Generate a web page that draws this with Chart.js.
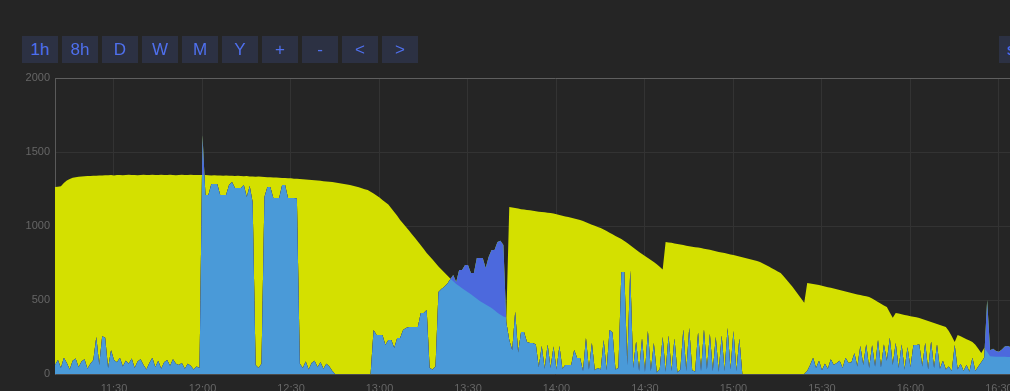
<!DOCTYPE html>
<html>
<head>
<meta charset="utf-8">
<script src="https://cdn.jsdelivr.net/npm/chart.js@4.4.1/dist/chart.umd.min.js"></script>
<style>
  html, body { margin:0; padding:0; background:#252525; width:1010px; height:391px; overflow:hidden; }
  .btn { position:absolute; top:36px; height:27px; width:36px; line-height:27px; text-align:center;
         background:#2c3143; color:#4f70ee; font-family:"Liberation Sans", Arial, sans-serif; font-size:17px; z-index:2; }
  #wrap { position:absolute; left:0; top:60px; width:1055px; height:340px; }
  #c { width:1055px; height:340px; display:block; }
</style>
</head>
<body>
<div class="btn" style="left:22px">1h</div>
<div class="btn" style="left:62px">8h</div>
<div class="btn" style="left:102px">D</div>
<div class="btn" style="left:142px">W</div>
<div class="btn" style="left:182px">M</div>
<div class="btn" style="left:222px">Y</div>
<div class="btn" style="left:262px">+</div>
<div class="btn" style="left:302px">-</div>
<div class="btn" style="left:342px">&lt;</div>
<div class="btn" style="left:382px">&gt;</div>
<div class="btn" style="left:999px;width:60px;text-align:left;padding-left:8px;">sum</div>
<div id="wrap"><canvas id="c" width="1055" height="340"></canvas></div>
<script>
// first sample at 11:10 (minutes after midnight), one sample per minute
const startMinute = 670;

// consumption (W), one value per minute from 11:10
const consumption = [
  60,95,40,110,75,30,90,105,45,85,100,35,70,95,
  250,60,255,245,40,160,
  95,80,110,50,90,70,105,40,85,100,60,30,75,110,45,90,35,80,95,55,100,70,
  60,75,35,70,55,30,50,40,
  1615,1209,1209,1284,1284,1284,1209,1209,1209,1277,1297,1257,1257,1257,1277,1196,1270,1160,
  60,40,70,
  1196,1264,1264,1189,1189,1189,1277,1277,1189,1189,1189,1185,
  70,40,85,30,75,90,45,80,35,70,50,20,
  0,0,0,0,0,0,0,0,0,0,0,0,0,
  297,264,264,264,196,230,230,176,243,243,297,310,318,318,318,318,412,412,432,40,30,50,
  554,575,590,610,640,669,621,703,703,736,736,682,682,784,784,784,716,791,838,838,892,900,872,
  350,230,160,420,145,284,284,216,209,209,200,
  45,190,35,200,40,185,30,190,35,61,61,61,162,108,108,
  20,243,30,210,25,40,30,230,25,297,280,30,40,690,690,60,700,40,
  220,20,240,15,290,20,210,10,30,250,15,260,20,240,10,30,300,20,310,25,15,280,20,300,30,270,20,250,15,260,20,310,30,290,20,240,0,
  0,0,0,0,0,0,0,0,0,0,0,0,0,0,0,0,0,0,0,0,0,
  20,60,110,40,90,25,70,35,100,60,75,90,40,110,75,80,140,50,190,60,200,40,195,50,230,45,200,90,245,60,210,40,200,30,180,45,196,196,200,50,210,30,220,40,200,35,90,30,50,20,196,30,70,20,60,15,110,20,50,80,110,500,160,
  170,155,150,165,185,190,180,170,175,185,190,180,175,170,180,185,175,170,165,175,180,170
];

// production (W), one value per minute from 11:10
const production = [
  1264,1266,1268,1290,1308,1318,1326,1330,1332,1334,1336,1337,1338,1339,1340,1341,
  1342,1343,1343,1344,1342,1345,1344,1343,1345,1346,1344,1345,1343,1345,1346,1345,1344,
  1346,1344,1345,1347,1345,1344,1346,1345,1343,1345,1346,1344,1345,1346,1344,1345,1345,
  1344,1345,1343,1342,1343,1341,1342,1340,1341,1339,1340,1338,1339,1337,1336,1337,1335,
  1334,1333,1334,1332,1331,1330,1329,1328,1327,1326,1325,1324,1323,1322,1320,1319,1318,
  1316,1314,1313,1311,1309,1307,1305,1303,1301,1299,1297,
  1294,1291,1288,1284,1281,1277,
  1272,1267,1261,1255,1249,1243,
  1232,1220,1206,1192,
  1175,1160,1145,1120,
  1095,1070,1041,
  1017,993,969,945,921,
  895,870,845,818,
  795,773,750,727,
  706,686,666,646,626,
  608,594,580,566,553,539,
  523,508,493,
  482,470,458,446,
  430,414,400,388,382,
  1128,1125,1122,1118,1114,
  1111,1108,1106,1103,1100,1097,1095,1093,1090,1088,
  1084,1080,1075,1070,1065,1060,1055,1050,1045,1040,
  1033,1025,1017,1009,1001,994,986,
  976,966,955,944,933,922,912,
  899,885,870,855,840,824,
  811,798,784,770,757,
  742,725,706,
  892,889,886,882,879,875,871,867,864,860,857,854,851,
  847,843,839,834,830,825,821,817,813,808,804,
  799,794,789,784,779,773,768,763,757,
  747,737,726,715,704,693,682,
  660,637,613,590,
  562,535,508,482,
  615,611,608,605,601,
  596,591,586,582,577,573,568,
  563,558,553,548,543,538,534,529,525,520,
  510,498,486,474,462,453,
  415,380,412,
  408,404,399,395,391,387,383,378,
  371,365,358,351,345,338,331,325,318,
  290,255,216,264,
  255,245,235,226,216,
  197,170,142,176,
  150,120,
  118,117,117,116,116,115,115,114,114,113,113,112,112,111,111,110,110,109,109,108,108,107
];

const xTickLabels = ['11:30','12:00','12:30','13:00','13:30','14:00','14:30','15:00','15:30','16:00','16:30'];
const yTickValues = [0, 500, 1000, 1500, 2000];

const toMin = s => { const [h, m] = s.split(':').map(Number); return h * 60 + m; };
const fmt = v => { const h = Math.floor(v / 60), m = Math.round(v % 60); return h + ':' + String(m).padStart(2, '0'); };

const consPts = consumption.map((v, i) => ({ x: startMinute + i, y: v }));
const prodPts = production.map((v, i) => ({ x: startMinute + i, y: v }));

const tickFont = { family: '"Liberation Sans", Arial, sans-serif', size: 11 };

new Chart(document.getElementById('c'), {
  type: 'line',
  data: {
    datasets: [
      { label: 'consumption', data: consPts, order: 2, fill: 'origin',
        backgroundColor: '#4a9ad8', borderWidth: 0, pointRadius: 0, tension: 0 },
      { label: 'production', data: prodPts, order: 1,
        fill: { target: 0, above: '#d4e000', below: '#4c69dd' },
        backgroundColor: '#d4e000', borderWidth: 0, pointRadius: 0, tension: 0 }
    ]
  },
  options: {
    responsive: false,
    maintainAspectRatio: false,
    devicePixelRatio: 1,
    animation: false,
    events: [],
    layout: { autoPadding: false, padding: { top: 18, right: 0, bottom: 0, left: 0 } },
    plugins: { legend: { display: false }, tooltip: { enabled: false } },
    scales: {
      x: {
        type: 'linear',
        min: startMinute,
        max: startMinute + consumption.length - 1,
        afterBuildTicks: s => { s.ticks = xTickLabels.map(l => ({ value: toMin(l) })); },
        afterFit: s => { s.height = 26; },
        ticks: { color: '#666', font: tickFont, padding: 8, maxRotation: 0, autoSkip: false,
                 callback: v => fmt(v) },
        grid: { color: '#333', drawTicks: false },
        border: { color: '#4a4a4a' }
      },
      y: {
        min: 0, max: 2000,
        afterBuildTicks: s => { s.ticks = yTickValues.map(v => ({ value: v })); },
        afterFit: s => { s.width = 55; },
        ticks: { color: '#666', font: tickFont, padding: 5, callback: v => String(v) },
        grid: { color: c => (c.tick && c.tick.value === 2000) ? '#5f5f5f' : '#333', drawTicks: false },
        border: { color: '#5a5a5a' }
      }
    }
  }
});
</script>
</body>
</html>
